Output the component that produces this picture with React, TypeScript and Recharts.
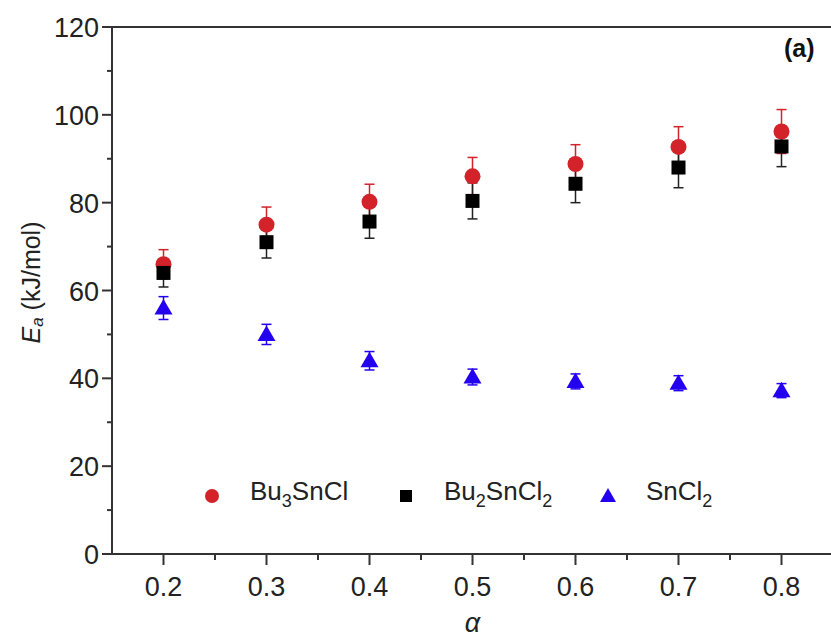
import { ErrorBar, ReferenceArea, Scatter, ScatterChart, XAxis, YAxis } from "recharts"

const alpha = [0.2, 0.3, 0.4, 0.5, 0.6, 0.7, 0.8]
const bu3SnCl = [66, 75, 80.2, 86, 88.8, 92.7, 96.2]
const bu3SnClErr = [3.3, 4, 4, 4.3, 4.4, 4.6, 5]
const bu2SnCl2 = [64, 71, 75.7, 80.4, 84.3, 88, 92.8]
const bu2SnCl2Err = [3.2, 3.6, 3.8, 4.1, 4.3, 4.6, 4.6]
const snCl2 = [56, 50, 44, 40.3, 39.3, 38.9, 37.2]
const snCl2Err = [2.6, 2.3, 2.1, 1.8, 1.7, 1.7, 1.6]

const xTicks = [0.15, 0.2, 0.25, 0.3, 0.35, 0.4, 0.45, 0.5, 0.55, 0.6, 0.65, 0.7, 0.75, 0.8, 0.85]
const yTicks = [0, 10, 20, 30, 40, 50, 60, 70, 80, 90, 100, 110, 120]

const RED = "#d3222a"
const BLACK = "#000000"
const BLUE = "#2400f0"
const AXIS = "#333333"
const FONT = "'Liberation Sans', Arial, Helvetica, sans-serif"
const TICK_SIZE = 10
const TICK_MARGIN = 4

const toPoints = (vals: number[], errs: number[]) =>
  alpha.map((a, i) => ({ x: a, y: vals[i], e: errs[i] }))

const bu3Data = toPoints(bu3SnCl, bu3SnClErr)
const bu2Data = toPoints(bu2SnCl2, bu2SnCl2Err)
const snData = toPoints(snCl2, snCl2Err)

const Circle = (p: any) => <circle cx={p.cx} cy={p.cy} r={8} fill={RED} />
const Square = (p: any) => <rect x={p.cx - 7} y={p.cy - 7} width={14} height={14} fill={BLACK} />
const Triangle = (p: any) => (
  <polygon
    points={`${p.cx},${p.cy - 9} ${p.cx + 9},${p.cy + 6.5} ${p.cx - 9},${p.cy + 6.5}`}
    fill={BLUE}
  />
)

const YTick = (p: any) => {
  const v = p.payload.value
  const ax = p.x + TICK_SIZE + TICK_MARGIN
  const major = v % 20 === 0
  return (
    <g>
      <line x1={ax - (major ? 10 : 5)} x2={ax} y1={p.y} y2={p.y} stroke={AXIS} strokeWidth={2} />
      {major && (
        <text x={ax - 13} y={p.y + 1} textAnchor="end" dominantBaseline="central" fontSize={27} fontFamily={FONT} fill="#222">
          {v}
        </text>
      )}
    </g>
  )
}

const XTick = (p: any) => {
  const v = p.payload.value
  const ay = p.y - TICK_SIZE - TICK_MARGIN
  const major = Math.round(v * 100) % 10 === 0
  if (v < 0.17 || v > 0.83) return <g />
  return (
    <g>
      <line x1={p.x} x2={p.x} y1={ay} y2={ay + (major ? 11 : 6)} stroke={AXIS} strokeWidth={2} />
      {major && (
        <text x={p.x} y={ay + 42} textAnchor="middle" fontSize={27} fontFamily={FONT} fill="#222">
          {v.toFixed(1)}
        </text>
      )}
    </g>
  )
}

const YLabel = (p: any) => {
  const vb = p.viewBox
  const cx = vb.x + 31
  const cy = vb.y + vb.height / 2 - 8
  return (
    <text
      x={cx}
      y={cy}
      transform={`rotate(-90, ${cx}, ${cy})`}
      textAnchor="middle"
      dominantBaseline="central"
      fontSize={25}
      fontFamily={FONT}
      fill="#222"
    >
      <tspan fontStyle="italic">E</tspan>
      <tspan fontStyle="italic" fontSize={17} dy={6}>a</tspan>
      <tspan dy={-6}> (kJ/mol)</tspan>
    </text>
  )
}

const XLabel = (p: any) => {
  const vb = p.viewBox
  return (
    <text x={vb.x + vb.width / 2} y={632} textAnchor="middle" fontSize={27} fontStyle="italic" fontFamily={FONT} fill="#222">
      α
    </text>
  )
}

const legendItems = [
  { marker: "circle", left: 196, text: ["Bu", "3", "SnCl", ""] },
  { marker: "square", left: 390, text: ["Bu", "2", "SnCl", "2"] },
  { marker: "triangle", left: 592, text: ["SnCl", "2", "", ""] },
]

const LegendMarker = ({ kind }: { kind: string }) => (
  <svg width={32} height={30} style={{ display: "block" }}>
    {kind === "circle" && <circle cx={16} cy={15} r={7} fill={RED} />}
    {kind === "square" && <rect x={10} y={9} width={12} height={12} fill={BLACK} />}
    {kind === "triangle" && <polygon points="16,7 24,21 8,21" fill={BLUE} />}
  </svg>
)

const ChartLegend = () => (
  <div style={{ position: "absolute", left: 0, top: 476, width: 831, height: 40, fontFamily: FONT, fontSize: 26, color: "#222" }}>
    {legendItems.map((it) => (
      <div key={it.marker} style={{ position: "absolute", left: it.left, top: 0, display: "flex", alignItems: "center" }}>
        <LegendMarker kind={it.marker} />
        <span style={{ marginLeft: 22, whiteSpace: "nowrap", lineHeight: "30px" }}>
          {it.text[0]}
          {it.text[1] && <sub style={{ fontSize: 18, verticalAlign: "-7px" }}>{it.text[1]}</sub>}
          {it.text[2]}
          {it.text[3] && <sub style={{ fontSize: 18, verticalAlign: "-7px" }}>{it.text[3]}</sub>}
        </span>
      </div>
    ))}
  </div>
)

export default function App() {
  return (
    <div style={{ position: "absolute", left: 0, top: 0, width: 831, height: 637, overflow: "hidden", background: "#fff" }}>
      <ScatterChart width={836} height={637} margin={{ top: 27, right: 3, bottom: 0, left: 0 }}>
        <XAxis
          type="number"
          dataKey="x"
          domain={[0.15, 0.85]}
          ticks={xTicks}
          interval={0}
          height={83}
          tickSize={TICK_SIZE}
          tickMargin={TICK_MARGIN}
          tickLine={false}
          axisLine={{ stroke: AXIS, strokeWidth: 2 }}
          tick={<XTick />}
          label={{ content: <XLabel /> }}
        />
        <YAxis
          type="number"
          dataKey="y"
          domain={[0, 120]}
          ticks={yTicks}
          interval={0}
          width={112}
          tickSize={TICK_SIZE}
          tickMargin={TICK_MARGIN}
          tickLine={false}
          axisLine={{ stroke: AXIS, strokeWidth: 2 }}
          tick={<YTick />}
          label={{ content: <YLabel /> }}
        />
        <ReferenceArea x1={0.15} x2={0.85} y1={0} y2={120} fill="none" stroke={AXIS} strokeWidth={2} ifOverflow="visible" />
        <Scatter name="Bu3SnCl" data={bu3Data} shape={<Circle />} isAnimationActive={false}>
          <ErrorBar dataKey="e" direction="y" width={5} stroke={RED} strokeWidth={1.5} />
        </Scatter>
        <Scatter name="Bu2SnCl2" data={bu2Data} shape={<Square />} isAnimationActive={false}>
          <ErrorBar dataKey="e" direction="y" width={5} stroke="#222" strokeWidth={1.5} />
        </Scatter>
        <Scatter name="SnCl2" data={snData} shape={<Triangle />} isAnimationActive={false}>
          <ErrorBar dataKey="e" direction="y" width={5} stroke={BLUE} strokeWidth={1.5} />
        </Scatter>
      </ScatterChart>
      <ChartLegend />
      <div style={{ position: "absolute", left: 784, top: 34, fontFamily: FONT, fontSize: 25, fontWeight: "bold", color: "#111" }}>
        (a)
      </div>
    </div>
  )
}
